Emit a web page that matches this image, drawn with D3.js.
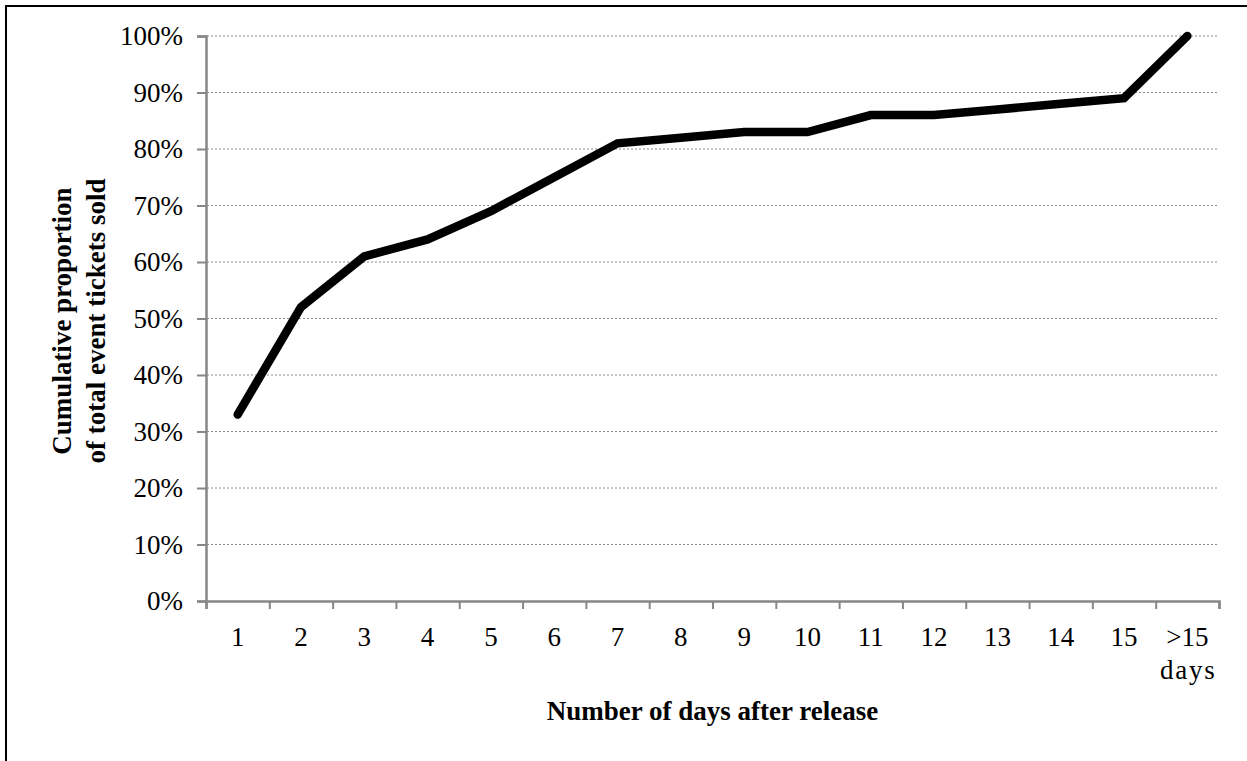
<!DOCTYPE html>
<html>
<head>
<meta charset="utf-8">
<script src="https://cdn.jsdelivr.net/npm/d3@7"></script>
<style>
  html, body { margin: 0; padding: 0; background: #fff; }
  svg { display: block; }
  text { font-family: "Liberation Serif", "Times New Roman", serif; fill: #000; }
</style>
</head>
<body>
<svg id="chart" width="1247" height="761"></svg>
<script>
const categories = ["1","2","3","4","5","6","7","8","9","10","11","12","13","14","15",">15 days"];
const values = [0.33, 0.52, 0.61, 0.64, 0.69, 0.75, 0.81, 0.82, 0.83, 0.83, 0.86, 0.86, 0.87, 0.88, 0.89, 1.00];
const yTicks = [0, 0.1, 0.2, 0.3, 0.4, 0.5, 0.6, 0.7, 0.8, 0.9, 1.0];
const xTitle = "Number of days after release";
const yTitleLines = ["Cumulative proportion", "of total event tickets sold"];

(function() {
const svg = d3.select("#chart");
const pLeft = 206, pRight = 1219, pTop = 36, pBottom = 601;
const axisColor = "#878787";

// outer border (top and left visible)
svg.append("rect")
  .attr("x", 6).attr("y", 6)
  .attr("width", 1400).attr("height", 1000)
  .attr("fill", "none").attr("stroke", "#000").attr("stroke-width", 2);

const x = d3.scaleBand().domain(categories).range([pLeft, pRight]).paddingInner(0).paddingOuter(0);
const xEdge = d3.scaleLinear().domain([0, categories.length]).range([pLeft, pRight]);
const y = d3.scaleLinear().domain([0, 1]).range([pBottom, pTop]);

// gridlines
svg.append("g")
  .selectAll("line")
  .data(yTicks.filter(d => d > 0))
  .join("line")
  .attr("x1", pLeft + 1).attr("x2", pRight)
  .attr("y1", d => y(d)).attr("y2", d => y(d))
  .attr("stroke", "#8a8a8a")
  .attr("stroke-width", 1)
  .attr("stroke-dasharray", "2,2");

// y axis
const yAxis = svg.append("g")
  .attr("transform", `translate(${pLeft},0)`)
  .call(d3.axisLeft(y).tickValues(yTicks).tickSize(9).tickPadding(14).tickFormat(d3.format(".0%")));
yAxis.select(".domain").attr("stroke", axisColor).attr("stroke-width", 2.5);
yAxis.selectAll(".tick line").attr("stroke", axisColor).attr("stroke-width", 2);
yAxis.selectAll(".tick text")
  .attr("font-family", "Liberation Serif").attr("font-size", 27).attr("fill", "#000")
  .attr("dy", "0.33em");

// x axis boundary ticks
const xAxis = svg.append("g")
  .attr("transform", `translate(0,${pBottom})`)
  .call(d3.axisBottom(xEdge).tickValues(d3.range(categories.length + 1)).tickSize(8).tickFormat(""));
xAxis.select(".domain").attr("stroke", axisColor).attr("stroke-width", 2.5);
xAxis.selectAll(".tick line").attr("stroke", axisColor).attr("stroke-width", 2);

// x labels
const xl = svg.append("g").attr("transform", `translate(0,${pBottom})`);
xl.selectAll("text")
  .data(categories)
  .join("text")
  .attr("x", d => x(d) + x.bandwidth() / 2)
  .attr("y", 45)
  .attr("text-anchor", "middle")
  .attr("font-size", 27)
  .each(function(d) {
    const parts = d.split(" ");
    const t = d3.select(this);
    parts.forEach((p, i) => {
      t.append("tspan")
        .attr("x", x(d) + x.bandwidth() / 2 + (i > 0 ? 1 : 0))
        .attr("dy", i === 0 ? 0 : 33)
        .attr("letter-spacing", i > 0 ? "1.8px" : null)
        .text(p);
    });
  });

// line
const line = d3.line()
  .x((d, i) => x(categories[i]) + x.bandwidth() / 2)
  .y(d => y(d));
svg.append("path")
  .datum(values)
  .attr("d", line)
  .attr("fill", "none")
  .attr("stroke", "#000")
  .attr("stroke-width", 8.5)
  .attr("stroke-linecap", "round")
  .attr("stroke-linejoin", "miter");

// x title
svg.append("text")
  .attr("x", (pLeft + pRight) / 2)
  .attr("y", 720)
  .attr("text-anchor", "middle")
  .attr("font-weight", "bold")
  .attr("font-size", 27)
  .text(xTitle);

// y title
const yt = svg.append("text")
  .attr("transform", `translate(0,321) rotate(-90)`)
  .attr("text-anchor", "middle")
  .attr("font-weight", "bold")
  .attr("font-size", 27);
yTitleLines.forEach((l, i) => {
  yt.append("tspan").attr("x", 0).attr("y", 71 + i * 34).text(l);
});
})();
</script>
</body>
</html>
